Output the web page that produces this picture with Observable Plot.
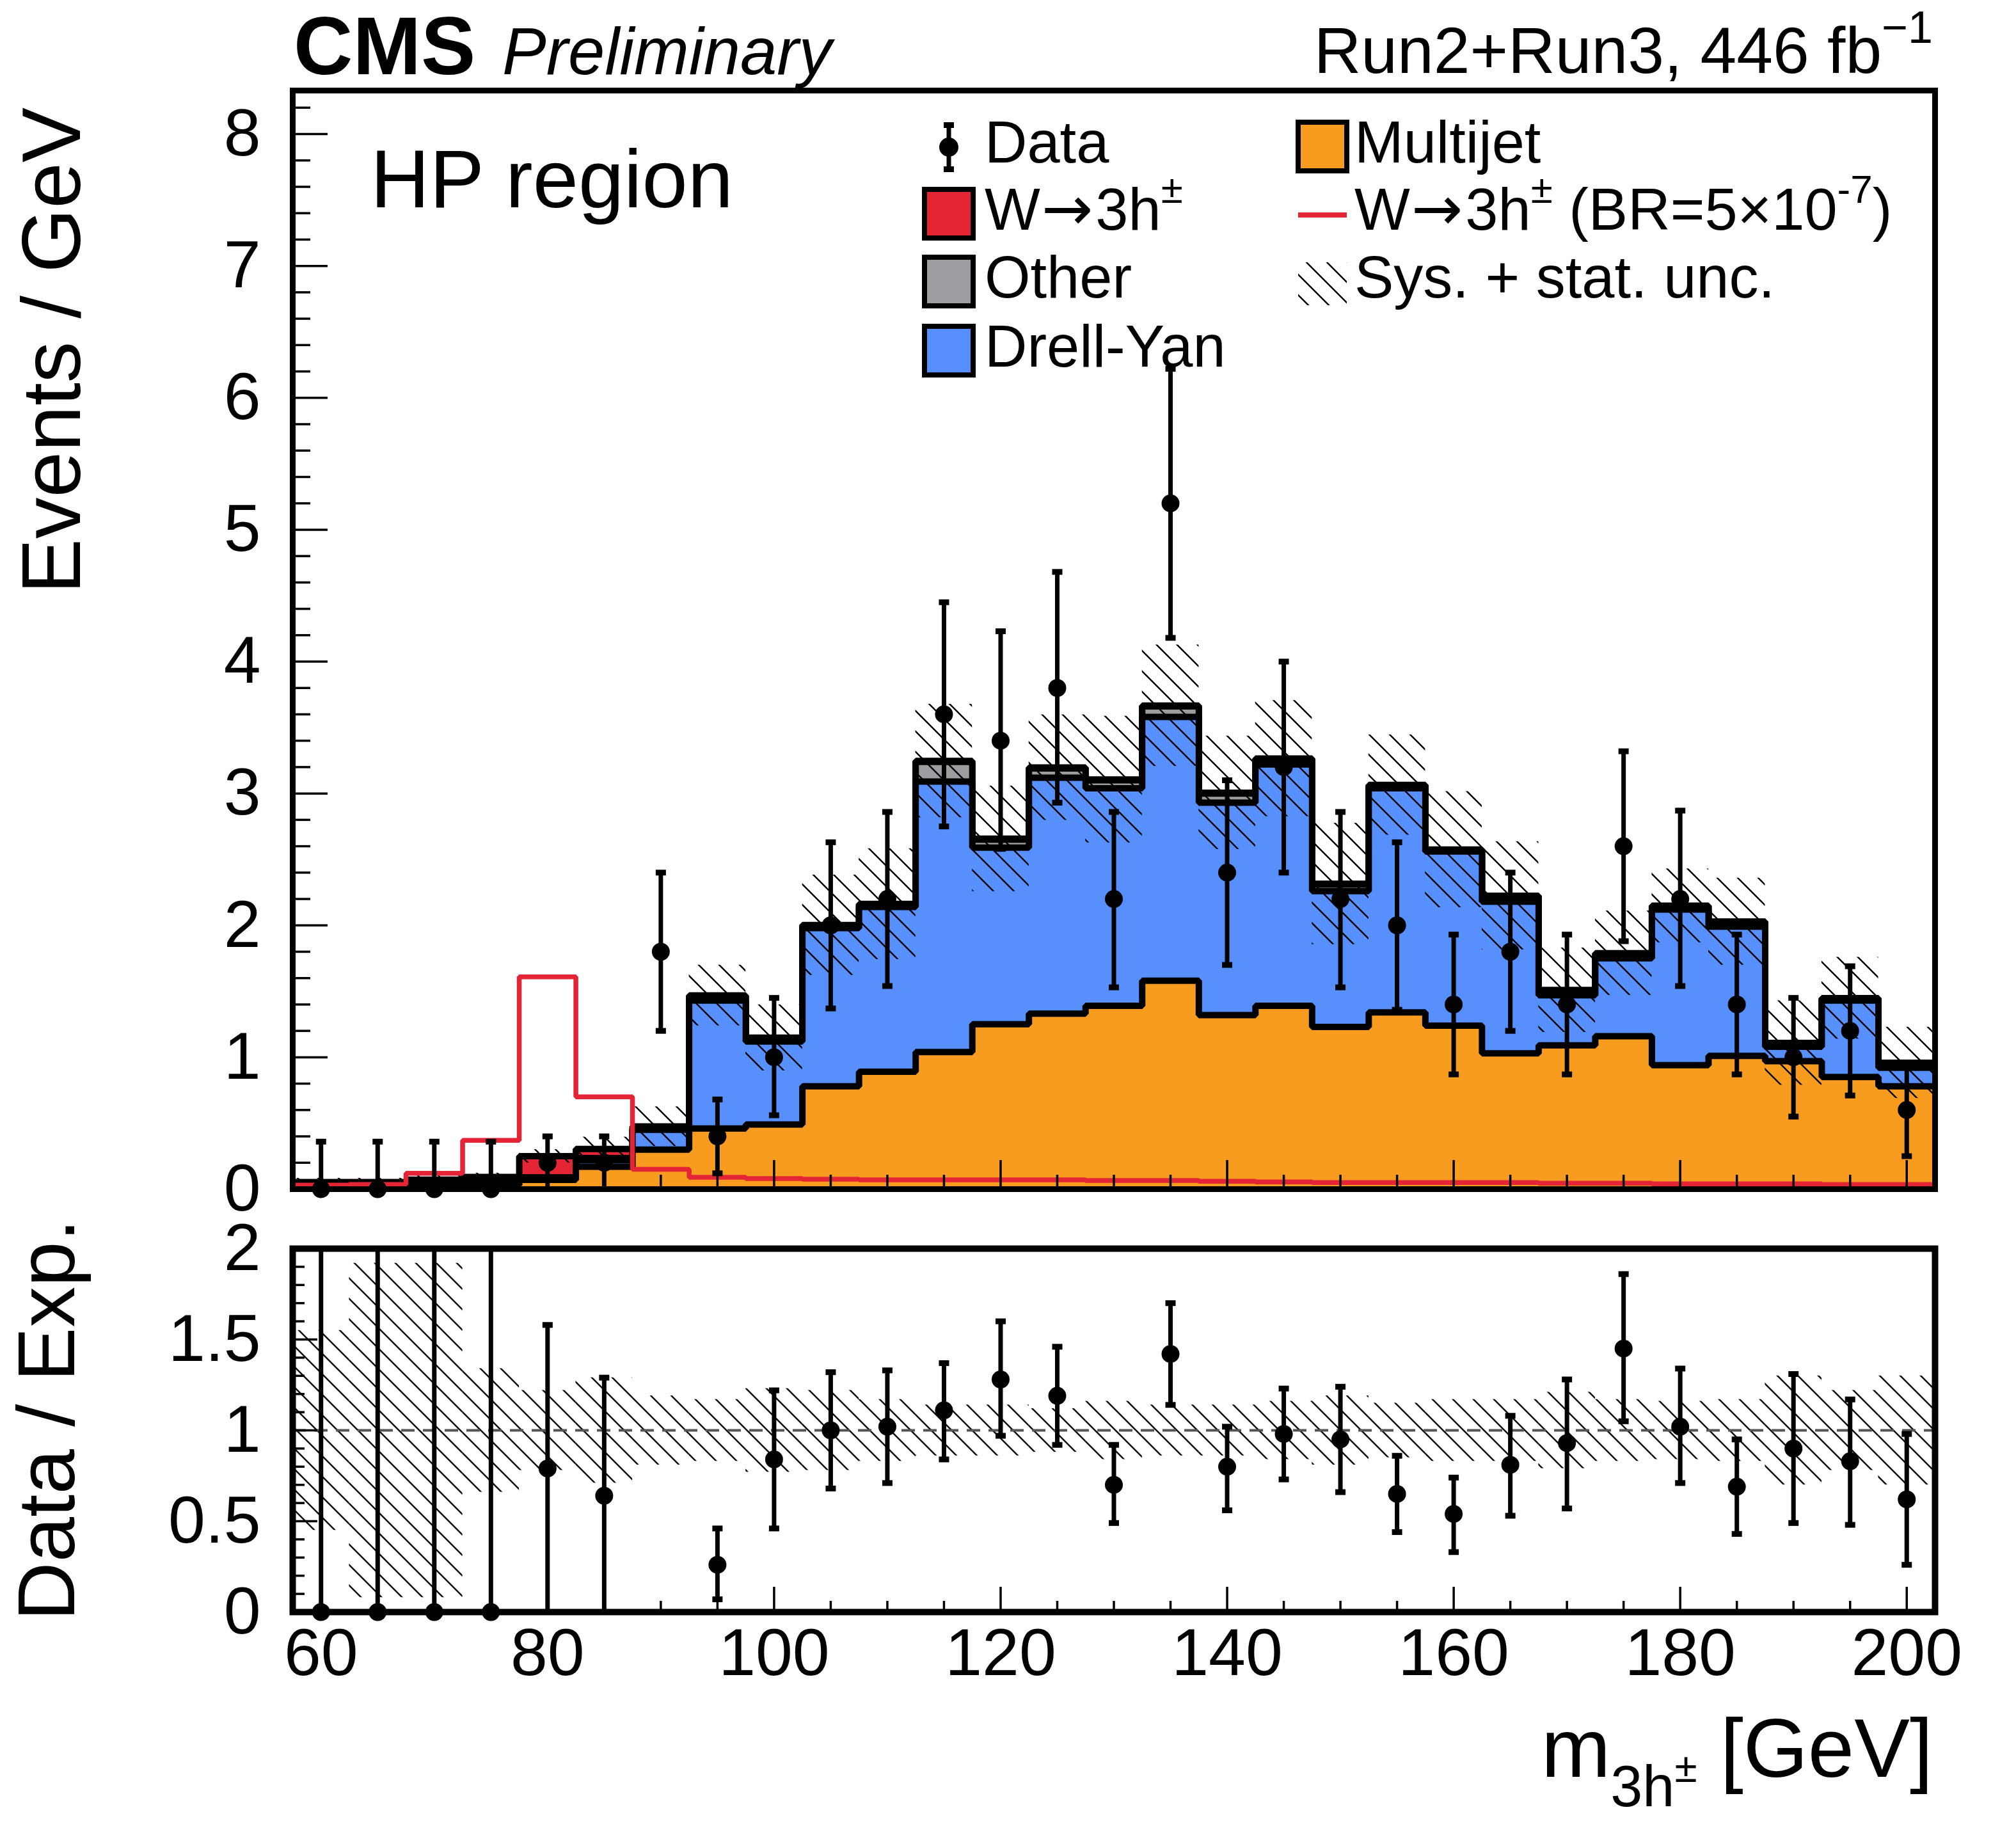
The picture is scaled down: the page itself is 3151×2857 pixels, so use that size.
<!DOCTYPE html>
<html><head><meta charset="utf-8">
<script src="https://cdn.jsdelivr.net/npm/d3@7"></script>
<script src="https://cdn.jsdelivr.net/npm/@observablehq/plot@0.6"></script>
<style>
html,body{margin:0;padding:0;background:#fff;overflow:hidden;}
#wrap{position:relative;width:3151px;height:2857px;font-family:'Liberation Sans',Arial,Helvetica,sans-serif;}
#top,#bottom,#overlay{position:absolute;left:0;}
#top{top:0}
#bottom{top:1900px}
#overlay{top:0;pointer-events:none}
</style></head><body>
<div id="wrap"><div id="top"></div><div id="bottom"></div><svg id="overlay" width="3151" height="2857"></svg></div>
<script>
// ---------------- data ----------------
const binCenters = [60,65,70,75,80,85,90,95,100,105,110,115,120,125,130,135,140,145,150,155,160,165,170,175,180,185,190,195,200];
const binWidth = 5;
const multijet = [0.02,0.02,0.03,0.03,0.07,0.17,0.30,0.46,0.49,0.78,0.89,1.04,1.25,1.33,1.39,1.58,1.32,1.39,1.23,1.34,1.24,1.03,1.09,1.16,0.94,1.01,0.97,0.85,0.78];
const drellYan = [0.02,0.02,0.02,0.02,0.01,0.05,0.15,0.97,0.63,1.20,1.25,2.05,1.34,1.79,1.65,2.00,1.61,1.83,1.03,1.70,1.32,1.15,0.38,0.59,1.18,0.98,0.11,0.58,0.14];
const other = [0.01,0.01,0.01,0.005,0.01,0.015,0.01,0.03,0.02,0.015,0.015,0.15,0.06,0.07,0.06,0.08,0.07,0.04,0.05,0.02,0.01,0.04,0.035,0.035,0.025,0.035,0.025,0.015,0.035];
const signalStacked = [0.003,0.003,0.012,0.037,0.16,0.07,0.015,0.009,0.008,0.007,0.007,0.007,0.007,0.007,0.0065,0.0065,0.006,0.0055,0.005,0.005,0.005,0.005,0.0045,0.0045,0.004,0.004,0.004,0.0035,0.0035];
const signalBR = [0.03,0.035,0.12,0.37,1.61,0.70,0.15,0.09,0.08,0.075,0.07,0.07,0.07,0.07,0.065,0.065,0.06,0.055,0.05,0.05,0.05,0.05,0.045,0.045,0.04,0.04,0.04,0.035,0.035];
const totalUnc = [0.03,0.03,0.04,0.03,0.05,0.09,0.15,0.23,0.25,0.38,0.42,0.43,0.40,0.40,0.48,0.46,0.43,0.44,0.46,0.38,0.44,0.41,0.32,0.32,0.28,0.33,0.32,0.31,0.27];
const dataVal = [0,0,0,0,0.2,0.2,1.8,0.4,1.0,2.0,2.2,3.6,3.4,3.8,2.2,5.2,2.4,3.2,2.2,2.0,1.4,1.8,1.4,2.6,2.2,1.4,1.0,1.2,0.6];
const dataHigh = [0.36,0.36,0.36,0.36,0.40,0.40,2.40,0.68,1.45,2.63,2.86,4.45,4.23,4.68,2.86,6.22,3.10,4.00,2.86,2.63,1.93,2.40,1.93,3.32,2.87,1.93,1.45,1.69,0.95];
const dataLow = [0,0,0,0,0,0,1.20,0.12,0.56,1.37,1.54,2.75,2.58,2.93,1.53,4.18,1.70,2.40,1.53,1.36,0.87,1.20,0.87,1.88,1.54,0.87,0.55,0.71,0.25];
const ratioVal = [0,0,0,0,0.79,0.64,3.75,0.26,0.84,1.00,1.02,1.11,1.28,1.19,0.70,1.42,0.80,0.98,0.95,0.65,0.54,0.81,0.93,1.45,1.02,0.69,0.90,0.83,0.62];
const ratioHigh = [3,3,3,3,1.58,1.29,5.0,0.46,1.22,1.32,1.33,1.37,1.60,1.46,0.92,1.70,1.02,1.23,1.24,0.86,0.74,1.08,1.28,1.86,1.34,0.95,1.31,1.17,0.98];
const ratioLow = [0,0,0,0,0,0,2.5,0.07,0.46,0.68,0.71,0.84,0.97,0.92,0.49,1.14,0.56,0.73,0.66,0.44,0.33,0.53,0.57,1.05,0.71,0.43,0.49,0.48,0.26];
const ratioUnc = [0.55,0.92,0.92,0.34,0.22,0.29,0.19,0.17,0.23,0.22,0.17,0.14,0.14,0.12,0.16,0.14,0.14,0.16,0.19,0.15,0.17,0.17,0.21,0.17,0.16,0.17,0.30,0.22,0.30];

const xMajorTicks = [60,80,100,120,140,160,180,200];
const xMinorTicks = [65,70,75,85,90,95,105,110,115,125,130,135,145,150,155,165,170,175,185,190,195];
const yMajorTop = [0,1,2,3,4,5,6,7,8];
const yMinorTop = d3.range(0, 8.3, 0.2).filter(v => Math.abs(v - Math.round(v)) > 1e-6);
const yMajorRatio = [0,0.5,1,1.5,2];
const yMinorRatio = d3.range(0.1, 2.0, 0.1).filter(v => Math.abs(v*2 - Math.round(v*2)) > 1e-6);

// ---------------- styles ----------------
const C = {orange:"#f89c20", blue:"#5790fc", gray:"#9c9ca1", red:"#e42536"};
const FONT = "'Liberation Sans', Arial, Helvetica, sans-serif";
const W = 3151, ML = 457, MR = 127;
const frameW = W - ML - MR;
const xDomain = [binCenters[0] - binWidth/2, binCenters[binCenters.length-1] + binWidth/2];

// ---------------- derived tables ----------------
const rows = binCenters.map((c, i) => {
  const c1 = multijet[i], c2 = c1 + drellYan[i], c3 = c2 + other[i], c4 = c3 + signalStacked[i];
  return {c, x0: c - binWidth/2, x1: c + binWidth/2, c1, c2, c3, c4,
    unc: totalUnc[i], d: dataVal[i], dh: dataHigh[i], dl: dataLow[i],
    r: ratioVal[i], rh: ratioHigh[i], rl: ratioLow[i], ru: ratioUnc[i], br: signalBR[i]};
});
function steps(key) {
  const pts = rows.map(r => ({x: r.x0, y: r[key]}));
  pts.push({x: rows[rows.length-1].x1, y: rows[rows.length-1][key]});
  return pts;
}
const capSymbol = {draw(ctx) { ctx.moveTo(-8,-4.5); ctx.lineTo(8,-4.5); ctx.lineTo(8,4.5); ctx.lineTo(-8,4.5); ctx.closePath(); }};

function addHatch(svg, id) {
  const defs = d3.select(svg).insert("defs", ":first-child");
  const p = defs.append("pattern").attr("id", id).attr("patternUnits", "userSpaceOnUse")
    .attr("width", 32).attr("height", 32);
  p.append("path").attr("d", "M-8,-8 L40,40 M-8,24 L8,40 M24,-8 L40,8")
    .attr("stroke", "black").attr("stroke-width", 2.4).attr("fill", "none");
}

// ---------------- top panel ----------------
const topH = 1900, topMT = 141, topMB = 42;
const topFrameH = topH - topMT - topMB;
const layers = [["c4", C.red], ["c3", C.gray], ["c2", C.blue], ["c1", C.orange]];
const stackMarks = [];
for (const [k, col] of layers) {
  stackMarks.push(Plot.rect(rows, {x1: "x0", x2: "x1", y1: () => 0, y2: k, fill: col, shapeRendering: "crispEdges"}));
  stackMarks.push(Plot.line(steps(k), {x: "x", y: "y", curve: "step-after", stroke: "black", strokeWidth: 10, strokeLinejoin: "miter", strokeLinecap: "butt"}));
}
const topPlot = Plot.plot({
  width: W, height: topH, marginLeft: ML, marginRight: MR, marginTop: topMT, marginBottom: topMB,
  x: {domain: xDomain, axis: null},
  y: {domain: [0, 8.33], axis: null},
  style: {fontFamily: FONT, fontSize: "104px", color: "black", background: "transparent", overflow: "visible"},
  marks: [
    ...stackMarks,
    Plot.rect(rows, {x1: "x0", x2: "x1", y1: d => d.c4 - d.unc, y2: d => d.c4 + d.unc, fill: "url(#hatchTop)"}),
    Plot.line(rows.map(r => ({x: r.x0, y: r.br})).concat([{x: rows[rows.length-1].x1, y: rows[rows.length-1].br}]),
      {x: "x", y: "y", curve: "step-after", stroke: C.red, strokeWidth: 7.5, strokeLinejoin: "miter"}),
    Plot.ruleX(xMajorTicks, {x: d => d, insetTop: topFrameH - 45, stroke: "black", strokeWidth: 3.5}),
    Plot.ruleX(xMinorTicks, {x: d => d, insetTop: topFrameH - 22, stroke: "black", strokeWidth: 3.5}),
    Plot.ruleY(yMajorTop, {y: d => d, insetRight: frameW - 55, stroke: "black", strokeWidth: 3.5}),
    Plot.ruleY(yMinorTop, {y: d => d, insetRight: frameW - 28, stroke: "black", strokeWidth: 3.5}),
    Plot.frame({stroke: "black", strokeWidth: 9}),
    Plot.ruleX(rows, {x: "c", y1: "dl", y2: "dh", stroke: "black", strokeWidth: 7}),
    Plot.dot(rows, {x: "c", y: "dh", symbol: capSymbol, r: 4, fill: "black", stroke: "none"}),
    Plot.dot(rows.filter(r => r.dl > 0), {x: "c", y: "dl", symbol: capSymbol, r: 4, fill: "black", stroke: "none"}),
    Plot.dot(rows, {x: "c", y: "d", r: 14, fill: "black", stroke: "none"}),
    Plot.axisY(yMajorTop, {anchor: "left", tickSize: 0, tickPadding: 50, fontSize: 104, tickFormat: d => String(d)})
  ]
});
addHatch(topPlot, "hatchTop");
document.getElementById("top").appendChild(topPlot);

// ---------------- ratio panel ----------------
const botH = 957, botMT = 51, botMB = 338;
const botFrameH = botH - botMT - botMB;
const inRange = v => v >= 0 && v <= 2;
const botPlot = Plot.plot({
  width: W, height: botH, marginLeft: ML, marginRight: MR, marginTop: botMT, marginBottom: botMB,
  x: {domain: xDomain, axis: null},
  y: {domain: [0, 2], axis: null},
  style: {fontFamily: FONT, fontSize: "104px", color: "black", background: "transparent", overflow: "visible"},
  marks: [
    Plot.rect(rows, {x1: "x0", x2: "x1", y1: d => Math.max(0, 1 - d.ru), y2: d => Math.min(2, 1 + d.ru), fill: "url(#hatchBot)"}),
    Plot.ruleY([1], {y: d => d, stroke: "#555", strokeWidth: 4, strokeDasharray: "21,13"}),
    Plot.ruleX(xMajorTicks, {x: d => d, insetTop: botFrameH - 39, stroke: "black", strokeWidth: 3.5}),
    Plot.ruleX(xMinorTicks, {x: d => d, insetTop: botFrameH - 17, stroke: "black", strokeWidth: 3.5}),
    Plot.ruleY(yMajorRatio, {y: d => d, insetRight: frameW - 39, stroke: "black", strokeWidth: 3.5}),
    Plot.ruleY(yMinorRatio, {y: d => d, insetRight: frameW - 19, stroke: "black", strokeWidth: 3.5}),
    Plot.frame({stroke: "black", strokeWidth: 10}),
    Plot.ruleX(rows.filter(r => r.rl < 2), {x: "c", y1: "rl", y2: d => Math.min(2, d.rh), stroke: "black", strokeWidth: 7}),
    Plot.dot(rows.filter(r => r.rh <= 2), {x: "c", y: "rh", symbol: capSymbol, r: 4, fill: "black", stroke: "none"}),
    Plot.dot(rows.filter(r => r.rl > 0 && r.rl <= 2), {x: "c", y: "rl", symbol: capSymbol, r: 4, fill: "black", stroke: "none"}),
    Plot.dot(rows.filter(r => inRange(r.r)), {x: "c", y: "r", r: 14, fill: "black", stroke: "none"}),
    Plot.axisY(yMajorRatio, {anchor: "left", tickSize: 0, tickPadding: 50, fontSize: 104, tickFormat: d => String(d)}),
    Plot.axisX(xMajorTicks, {anchor: "bottom", tickSize: 0, tickPadding: 25, fontSize: 104, tickFormat: d => String(d)})
  ]
});
addHatch(botPlot, "hatchBot");
document.getElementById("bottom").appendChild(botPlot);

// ---------------- overlay texts & legend ----------------
const ov = d3.select("#overlay").attr("font-family", FONT);
function text(x, y, s, size, extra = {}) {
  const t = ov.append("text").attr("x", x).attr("y", y).attr("font-size", size).attr("fill", "black").text(s);
  for (const k in extra) t.attr(k, extra[k]);
  return t;
}
text(459, 116, "CMS", 128, {"font-weight": "bold"});
text(785, 116, "Preliminary", 103, {"font-style": "italic"});
const lumi = ov.append("text").attr("x", 3021).attr("y", 114).attr("text-anchor", "end").attr("font-size", 102);
lumi.append("tspan").text("Run2+Run3, 446 fb");
lumi.append("tspan").attr("font-size", 70).attr("dy", -47).text("\u22121");
text(579, 324, "HP region", 128);

// y titles
ov.append("text").attr("transform", "translate(125,168) rotate(-90)").attr("text-anchor", "end").attr("font-size", 129).text("Events / GeV");
ov.append("text").attr("transform", "translate(116,1905) rotate(-90)").attr("text-anchor", "end").attr("font-size", 127).text("Data / Exp.");
// x title
const xt = ov.append("text").attr("x", 3021).attr("y", 2777).attr("text-anchor", "end").attr("font-size", 130);
xt.append("tspan").text("m");
xt.append("tspan").attr("font-size", 90).attr("dy", 46).text("3h");
xt.append("tspan").attr("font-size", 64).attr("dy", -38).text("\u00b1");
xt.append("tspan").attr("font-size", 130).attr("dy", -8).text(" [GeV]");

// legend
const LF = 92;
const col1Box = 1445, col1Txt = 1539, col2Box = 2029, col2Txt = 2117;
const rowsY = [254, 359, 465, 573];
function box(x, baseY, fill) {
  ov.append("rect").attr("x", x).attr("y", baseY - 63).attr("width", 76).attr("height", 76)
    .attr("fill", fill).attr("stroke", "black").attr("stroke-width", 8);
}
function wLabel(t) {
  t.append("tspan").text("W");
  t.append("tspan").attr("font-family", "'DejaVu Sans', sans-serif").attr("font-size", 96).attr("dx", 2).text("\u2192");
  t.append("tspan").attr("font-family", FONT).attr("font-size", LF).attr("dx", 4).text("3h");
  t.append("tspan").attr("font-size", 62).attr("dy", -42).text("\u00b1");
}
// Data marker
ov.append("line").attr("x1", 1483).attr("x2", 1483).attr("y1", 195).attr("y2", 265).attr("stroke", "black").attr("stroke-width", 7);
ov.append("rect").attr("x", 1475).attr("y", 191).attr("width", 16).attr("height", 9).attr("fill", "black");
ov.append("rect").attr("x", 1475).attr("y", 260).attr("width", 16).attr("height", 9).attr("fill", "black");
ov.append("circle").attr("cx", 1483).attr("cy", 230).attr("r", 15).attr("fill", "black");
text(col1Txt, rowsY[0], "Data", LF);
box(col1Box, rowsY[1], C.red);
wLabel(ov.append("text").attr("x", col1Txt).attr("y", rowsY[1]).attr("font-size", LF));
box(col1Box, rowsY[2], C.gray);
text(col1Txt, rowsY[2], "Other", LF);
box(col1Box, rowsY[3], C.blue);
text(col1Txt, rowsY[3], "Drell-Yan", LF);
box(col2Box, rowsY[0], C.orange);
text(col2Txt, rowsY[0], "Multijet", LF);
ov.append("line").attr("x1", 2029).attr("x2", 2105).attr("y1", 336).attr("y2", 336).attr("stroke", C.red).attr("stroke-width", 8);
const sl = ov.append("text").attr("x", col2Txt).attr("y", rowsY[1]).attr("font-size", LF);
wLabel(sl);
sl.append("tspan").attr("font-size", LF).attr("dy", 42).text(" (BR=5\u00d710");
sl.append("tspan").attr("font-size", 62).attr("dy", -42).text("-7");
sl.append("tspan").attr("font-size", LF).attr("dy", 42).text(")");
ov.append("rect").attr("x", 2029).attr("y", 410).attr("width", 76).attr("height", 67).attr("fill", "url(#hatchTop)");
text(col2Txt, rowsY[2], "Sys. + stat. unc.", LF);
</script>
</body></html>
